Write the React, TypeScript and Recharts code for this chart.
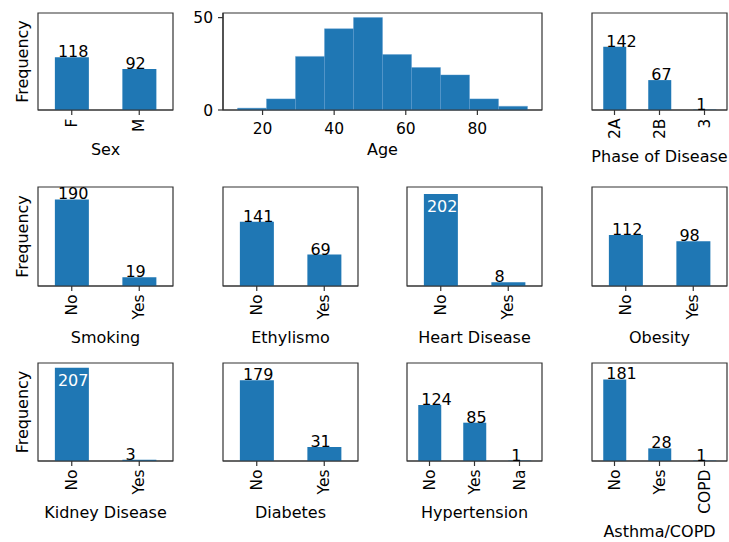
import React from 'react';
import { BarChart, Bar, XAxis, YAxis, ReferenceArea } from 'recharts';

const FONT = '"DejaVu Sans", sans-serif';
const BLUE = '#1f77b4';
const INK = '#333333';
const TICK_FS = 15.5;
const LABEL_FS = 16;
const VALUE_FS = 16;

// ---- data ----
const sexCats = ['F', 'M'];
const sexCounts = [118, 92];
const phaseCats = ['2A', '2B', '3'];
const phaseCounts = [142, 67, 1];
const yesNoCats = ['No', 'Yes'];
const smokingCounts = [190, 19];
const ethylismoCounts = [141, 69];
const heartCounts = [202, 8];
const obesityCounts = [112, 98];
const kidneyCounts = [207, 3];
const diabetesCounts = [179, 31];
const hyperCats = ['No', 'Yes', 'Na'];
const hyperCounts = [124, 85, 1];
const asthmaCats = ['No', 'Yes', 'COPD'];
const asthmaCounts = [181, 28, 1];

const ageBinStarts = [13, 21.1, 29.2, 37.3, 45.4, 53.5, 61.6, 69.7, 77.8, 85.9];
const ageBinWidth = 8.1;
const ageCounts = [1, 6, 29, 44, 50, 30, 23, 19, 6, 2];
const ageXTicks = [20, 40, 60, 80];
const ageYTicks = [0, 50];
const ageXDomain: [number, number] = [8.95, 98.05];
const ageYDomain: [number, number] = [0, 52.5];
const countDomain: [number, number] = [0, 217.35];

// ---- layout ----
const COLS = [38, 223, 407, 592];
const COL_W = 135;
const ROWS = [
  { top: 13, h: 97 },
  { top: 187, h: 99 },
  { top: 363, h: 98 },
];
const M_TOP = 20;
const M_LEFT = 45;
const M_RIGHT = 5;
const X_H = 85;

type PanelDef = {
  title: string;
  cats: string[];
  counts: number[];
  col: number;
  row: number;
  labelOffset: number;
  freq?: boolean;
};

const panels: PanelDef[] = [
  { title: 'Sex', cats: sexCats, counts: sexCounts, col: 0, row: 0, labelOffset: 44.5, freq: true },
  { title: 'Phase of Disease', cats: phaseCats, counts: phaseCounts, col: 3, row: 0, labelOffset: 51.5 },
  { title: 'Smoking', cats: yesNoCats, counts: smokingCounts, col: 0, row: 1, labelOffset: 57, freq: true },
  { title: 'Ethylismo', cats: yesNoCats, counts: ethylismoCounts, col: 1, row: 1, labelOffset: 57 },
  { title: 'Heart Disease', cats: yesNoCats, counts: heartCounts, col: 2, row: 1, labelOffset: 57 },
  { title: 'Obesity', cats: yesNoCats, counts: obesityCounts, col: 3, row: 1, labelOffset: 57 },
  { title: 'Kidney Disease', cats: yesNoCats, counts: kidneyCounts, col: 0, row: 2, labelOffset: 57, freq: true },
  { title: 'Diabetes', cats: yesNoCats, counts: diabetesCounts, col: 1, row: 2, labelOffset: 57 },
  { title: 'Hypertension', cats: hyperCats, counts: hyperCounts, col: 2, row: 2, labelOffset: 56.5 },
  { title: 'Asthma/COPD', cats: asthmaCats, counts: asthmaCounts, col: 3, row: 2, labelOffset: 76 },
];

const RotTick = (props: any) => {
  const { x, y, payload } = props;
  return (
    <text
      x={x}
      y={y}
      transform={`rotate(-90 ${x} ${y})`}
      textAnchor="end"
      dominantBaseline="central"
      fontFamily={FONT}
      fontSize={TICK_FS}
      fill="#000"
    >
      {payload.value}
    </text>
  );
};

const ValueLabel = (props: any) => {
  const { x, y, value } = props;
  const inside = value > 200;
  return (
    <text
      x={x + 3}
      y={inside ? y + 18 : y}
      textAnchor="start"
      fontFamily={FONT}
      fontSize={VALUE_FS}
      fill={inside ? '#ffffff' : '#000'}
    >
      {value}
    </text>
  );
};

const xLabel = (title: string, offset: number, freqPlotH?: number) => (props: any) => {
  const vb = props.viewBox || {};
  const fx = vb.x - 10;
  const fy = freqPlotH ? vb.y - freqPlotH / 2 : 0;
  return (
    <g>
      <text
        x={vb.x + vb.width / 2}
        y={vb.y + offset}
        textAnchor="middle"
        fontFamily={FONT}
        fontSize={LABEL_FS}
        fill="#000"
      >
        {title}
      </text>
      {freqPlotH ? (
        <text
          x={fx}
          y={fy}
          transform={`rotate(-90 ${fx} ${fy})`}
          textAnchor="middle"
          fontFamily={FONT}
          fontSize={LABEL_FS}
          fill="#000"
        >
          Frequency
        </text>
      ) : null}
    </g>
  );
};

const Panel = ({ p }: { p: PanelDef }) => {
  const row = ROWS[p.row];
  const data = p.cats.map((c, i) => ({ name: c, value: p.counts[i] }));
  const w = COL_W + M_LEFT + M_RIGHT;
  const h = row.h + M_TOP + X_H;
  return (
    <div style={{ position: 'absolute', left: COLS[p.col] - M_LEFT, top: row.top - M_TOP, width: w, height: h }}>
      <BarChart
        width={w}
        height={h}
        data={data}
        margin={{ top: M_TOP, left: M_LEFT, right: M_RIGHT, bottom: 0 }}
        barCategoryGap="25%"
      >
        <XAxis
          dataKey="name"
          interval={0}
          height={X_H}
          tickSize={5}
          tickMargin={3.5}
          tick={(tp: any) => <RotTick {...tp} />}
          tickLine={{ stroke: INK, strokeWidth: 1.2 }}
          axisLine={{ stroke: INK, strokeWidth: 1.2 }}
          label={xLabel(p.title, p.labelOffset, p.freq ? row.h : undefined)}
        />
        <YAxis domain={countDomain} width={0} tick={false} tickLine={false} axisLine={false} />
        <Bar dataKey="value" fill={BLUE} isAnimationActive={false} label={(lp: any) => <ValueLabel {...lp} />} />
        <ReferenceArea
          y1={countDomain[0]}
          y2={countDomain[1]}
          fill="none"
          fillOpacity={0}
          stroke={INK}
          strokeWidth={1.2}
          ifOverflow="visible"
        />
      </BarChart>
    </div>
  );
};

const AgePanel = () => {
  const row = ROWS[0];
  const data = ageBinStarts.map((s, i) => ({ mid: s + ageBinWidth / 2, count: ageCounts[i] }));
  const plotW = COLS[2] + COL_W - COLS[1];
  const yW = 45;
  const w = yW + plotW + M_RIGHT;
  const h = row.h + M_TOP + X_H;
  return (
    <div style={{ position: 'absolute', left: COLS[1] - yW, top: row.top - M_TOP, width: w, height: h }}>
      <BarChart
        width={w}
        height={h}
        data={data}
        margin={{ top: M_TOP, left: 0, right: M_RIGHT, bottom: 0 }}
        barCategoryGap={0}
        barGap={0}
      >
        <XAxis
          dataKey="mid"
          type="number"
          domain={ageXDomain}
          ticks={ageXTicks}
          height={X_H}
          tickSize={5}
          tickMargin={8}
          tick={{ fontFamily: FONT, fontSize: TICK_FS, fill: '#000' }}
          tickLine={{ stroke: INK, strokeWidth: 1.2 }}
          axisLine={{ stroke: INK, strokeWidth: 1.2 }}
          label={xLabel('Age', 44.5)}
        />
        <YAxis
          domain={ageYDomain}
          ticks={ageYTicks}
          width={yW}
          tickSize={5}
          tickMargin={5}
          tick={{ fontFamily: FONT, fontSize: TICK_FS, fill: '#000' }}
          tickLine={{ stroke: INK, strokeWidth: 1.2 }}
          axisLine={{ stroke: INK, strokeWidth: 1.2 }}
        />
        <Bar dataKey="count" fill={BLUE} stroke="#5b9bd0" strokeWidth={0.4} isAnimationActive={false} />
        <ReferenceArea
          y1={ageYDomain[0]}
          y2={ageYDomain[1]}
          fill="none"
          fillOpacity={0}
          stroke={INK}
          strokeWidth={1.2}
          ifOverflow="visible"
        />
      </BarChart>
    </div>
  );
};

export default function App() {
  return (
    <div
      style={{
        position: 'absolute',
        left: 0,
        top: 0,
        width: 729,
        height: 542,
        background: '#ffffff',
        fontFamily: FONT,
        overflow: 'hidden',
      }}
    >
      {panels.map((p) => (
        <Panel key={p.title} p={p} />
      ))}
      <AgePanel />
    </div>
  );
}
